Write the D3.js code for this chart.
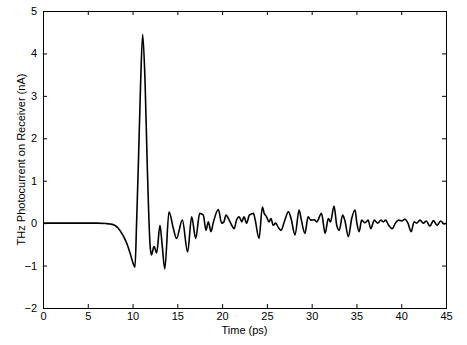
<!DOCTYPE html>
<html>
<head>
<meta charset="utf-8">
<script src="https://cdn.jsdelivr.net/npm/d3@7"></script>
<style>
body { margin:0; background:#fff; }
svg { display:block; font-family:"Liberation Sans", Arial, sans-serif; }
</style>
</head>
<body>
<svg id="graph"></svg>
<script>
//----------data-------------
var timePs = [0, 1, 2, 3, 4, 5, 6, 7, 7.5, 8, 8.4, 8.8, 9.2, 9.5, 9.8, 10.05, 10.27,
	10.45, 10.65, 10.9, 11.13, 11.4, 11.65, 11.95, 12.1, 12.4, 12.7, 13.06, 13.3, 13.6,
	14.07, 14.55, 14.9, 15.56, 16.15, 16.6, 17.05, 17.5, 17.9, 18.2, 18.46, 18.76, 19.0,
	19.58, 19.95, 20.2, 20.43, 20.8, 21.07, 21.36, 21.6, 21.9, 22.2, 22.44, 22.74, 23.04,
	23.5, 23.7, 24.12, 24.5, 24.7, 24.97, 25.23, 25.46, 25.7, 25.98, 26.27, 26.57, 27.0,
	27.4, 27.7, 28.14, 28.6, 28.85, 29.25, 29.6, 29.9, 30.3, 30.56, 31.1, 31.5, 31.86,
	32.1, 32.5, 32.8, 33.08, 33.46, 33.7, 34.1, 34.47, 34.84, 35.05, 35.3, 35.58, 35.95,
	36.3, 36.6, 37.0, 37.35, 37.74, 38.0, 38.26, 38.6, 39.0, 39.35, 39.7, 40.05, 40.4,
	40.75, 41.1, 41.45, 41.7, 42.1, 42.46, 42.8, 43.2, 43.6, 44.0, 44.4, 44.8, 45];
var currentNA = [0, 0, 0, 0, 0, 0, 0, -0.01, -0.02, -0.05, -0.12, -0.24, -0.4, -0.56, -0.76, -0.94, -1.04,
	0.0, 1.4, 3.3, 4.45, 3.3, 1.3, -0.5, -0.75, -0.55, -0.7, -0.05, -0.5, -1.08,
	0.27, -0.12, -0.36, 0.07, -0.68, 0.15, -0.36, 0.23, 0.19, -0.17, 0.03, -0.2, 0.0,
	0.32, 0.0, 0.03, 0.19, 0.07, -0.05, -0.13, 0.07, 0.15, 0.03, 0.15, 0.0, 0.19,
	0.23, 0.07, -0.36, 0.38, 0.23, 0.15, 0.03, 0.11, -0.05, 0.0, -0.1, -0.17, 0.07,
	0.27, 0.11, -0.28, 0.31, 0.07, -0.24, 0.15, 0.07, 0.08, 0.03, 0.23, -0.24, 0.11,
	0.03, 0.40, -0.05, -0.17, 0.19, 0.07, -0.32, 0.11, 0.31, 0.0, -0.2, 0.07, 0.01,
	0.07, -0.13, 0.07, 0.0, 0.07, 0.03, 0.07, -0.05, -0.13, 0.0, 0.07, 0.05, 0.09,
	0.0, -0.2, 0.03, 0.0, 0.07, 0.0, 0.05, -0.07, 0.06, -0.05, 0.05, -0.02, 0.0];
var xTicks = [0, 5, 10, 15, 20, 25, 30, 35, 40, 45];
var yTicks = [-2, -1, 0, 1, 2, 3, 4, 5];

//---------scale---------
var screen = {width:467, height:345};
var margin = {left:43, top:11, right:21, bottom:37};
var svg = d3.select("#graph")
	.attr("width", screen.width)
	.attr("height", screen.height);

var xScale = d3.scaleLinear()
	.domain([0,45])
	.range([margin.left, screen.width - margin.right]);
var yScale = d3.scaleLinear()
	.domain([-2,5])
	.range([screen.height - margin.bottom, margin.top]);

//---------axes (inward ticks, box)---------
var styleAxis = function (g)
{
	g.select(".domain").remove();
	g.selectAll("line").attr("stroke","#000");
	g.selectAll("text").attr("fill","#000").style("font-size","11px");
}
svg.append("g")
	.attr("transform","translate(0," + yScale(-2) + ")")
	.call(d3.axisBottom(xScale).tickValues(xTicks).tickSizeInner(-4).tickSizeOuter(0).tickPadding(4).tickFormat(d3.format("d")))
	.call(styleAxis);
svg.append("g")
	.attr("transform","translate(0," + yScale(5) + ")")
	.call(d3.axisTop(xScale).tickValues(xTicks).tickSizeInner(-4).tickSizeOuter(0).tickFormat(""))
	.call(styleAxis);
svg.append("g")
	.attr("transform","translate(" + xScale(0) + ",0)")
	.call(d3.axisLeft(yScale).tickValues(yTicks).tickSizeInner(-4).tickSizeOuter(0).tickPadding(6).tickFormat(d3.format("d")))
	.call(styleAxis);
svg.append("g")
	.attr("transform","translate(" + xScale(45) + ",0)")
	.call(d3.axisRight(yScale).tickValues(yTicks).tickSizeInner(-4).tickSizeOuter(0).tickFormat(""))
	.call(styleAxis);

svg.append("rect")
	.attr("x", xScale(0) + 0.5)
	.attr("y", yScale(5) + 0.5)
	.attr("width", xScale(45) - xScale(0))
	.attr("height", yScale(-2) - yScale(5))
	.attr("fill","none")
	.attr("stroke","#000");

//---------curve---------
var pts = timePs.map(function (t, i) { return [t, currentNA[i]]; });
svg.append("path")
	.datum(pts)
	.attr("fill","none")
	.attr("stroke","#000")
	.attr("stroke-width",1.6)
	.attr("stroke-linejoin","round")
	.attr("d", d3.line()
		.x(function (d) { return xScale(d[0]); })
		.y(function (d) { return yScale(d[1]); })
		.curve(d3.curveMonotoneX));

//---------labels---------
svg.append("text")
	.attr("x", (xScale(0) + xScale(45)) / 2)
	.attr("y", 334)
	.attr("text-anchor","middle")
	.style("font-size","11px")
	.text("Time (ps)");
svg.append("text")
	.attr("transform","translate(25," + ((yScale(5) + yScale(-2)) / 2) + ") rotate(-90)")
	.attr("text-anchor","middle")
	.style("font-size","11px")
	.text("THz Photocurrent on Receiver (nA)");
</script>
</body>
</html>
